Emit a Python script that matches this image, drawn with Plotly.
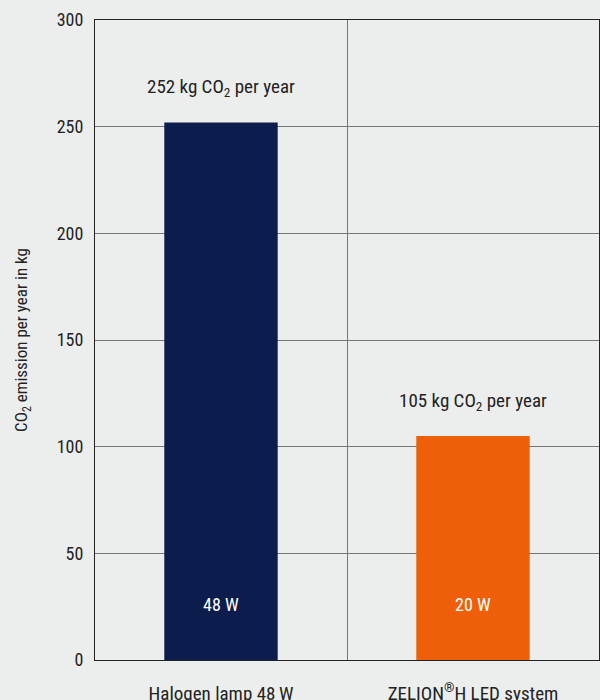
import plotly.graph_objects as go

categories = ["Halogen lamp 48\u2009W", "ZELION<sup>®</sup>H LED system"]
co2_values = [252, 105]
power_labels = ["48 W", "20 W"]
top_labels = ["252 kg CO<sub>2</sub> per year", "105 kg CO<sub>2</sub> per year"]
bar_colors = ["#0b1c4d", "#ef5f0a"]
y_ticks = [0, 50, 100, 150, 200, 250, 300]

FONT = "Liberation Sans Narrow, Roboto Condensed, Roboto, sans-serif"
BG = "#eceeed"

fig = go.Figure()
fig.add_trace(go.Bar(
    x=categories, y=co2_values, marker=dict(color=bar_colors, line=dict(width=0)),
    width=0.45, hoverinfo="skip"
))

for cat, val, lab in zip(categories, co2_values, top_labels):
    fig.add_annotation(x=cat, y=val, text=lab, showarrow=False, yshift=35,
                       font=dict(family=FONT, size=19, color="#222"))
for cat, lab in zip(categories, power_labels):
    fig.add_annotation(x=cat, y=0, text=lab, showarrow=False, yshift=56,
                       font=dict(family=FONT, size=18, color="white"))

fig.update_layout(
    width=600, height=700,
    margin=dict(l=95, r=1, t=20, b=40),
    paper_bgcolor=BG, plot_bgcolor=BG,
    showlegend=False,
    font=dict(family=FONT, size=17, color="#222"),
    xaxis=dict(
        type="category", tickson="boundaries", showgrid=True, gridcolor="#777",
        gridwidth=1, showline=True, mirror=True, linecolor="#222", linewidth=1,
        ticks="", ticklabelstandoff=16, tickfont=dict(size=19), automargin=False,
    ),
    yaxis=dict(
        range=[0, 300], tickvals=y_ticks, showgrid=True, gridcolor="#777",
        gridwidth=1, showline=True, mirror=True, linecolor="#222", linewidth=1,
        ticks="", ticklabelstandoff=7, zeroline=False, tickfont=dict(size=18),
        automargin=False,
        title=dict(text="CO<sub>2</sub> emission per year in kg", font=dict(size=17), standoff=24),
    ),
)

fig.write_html("out.html")
